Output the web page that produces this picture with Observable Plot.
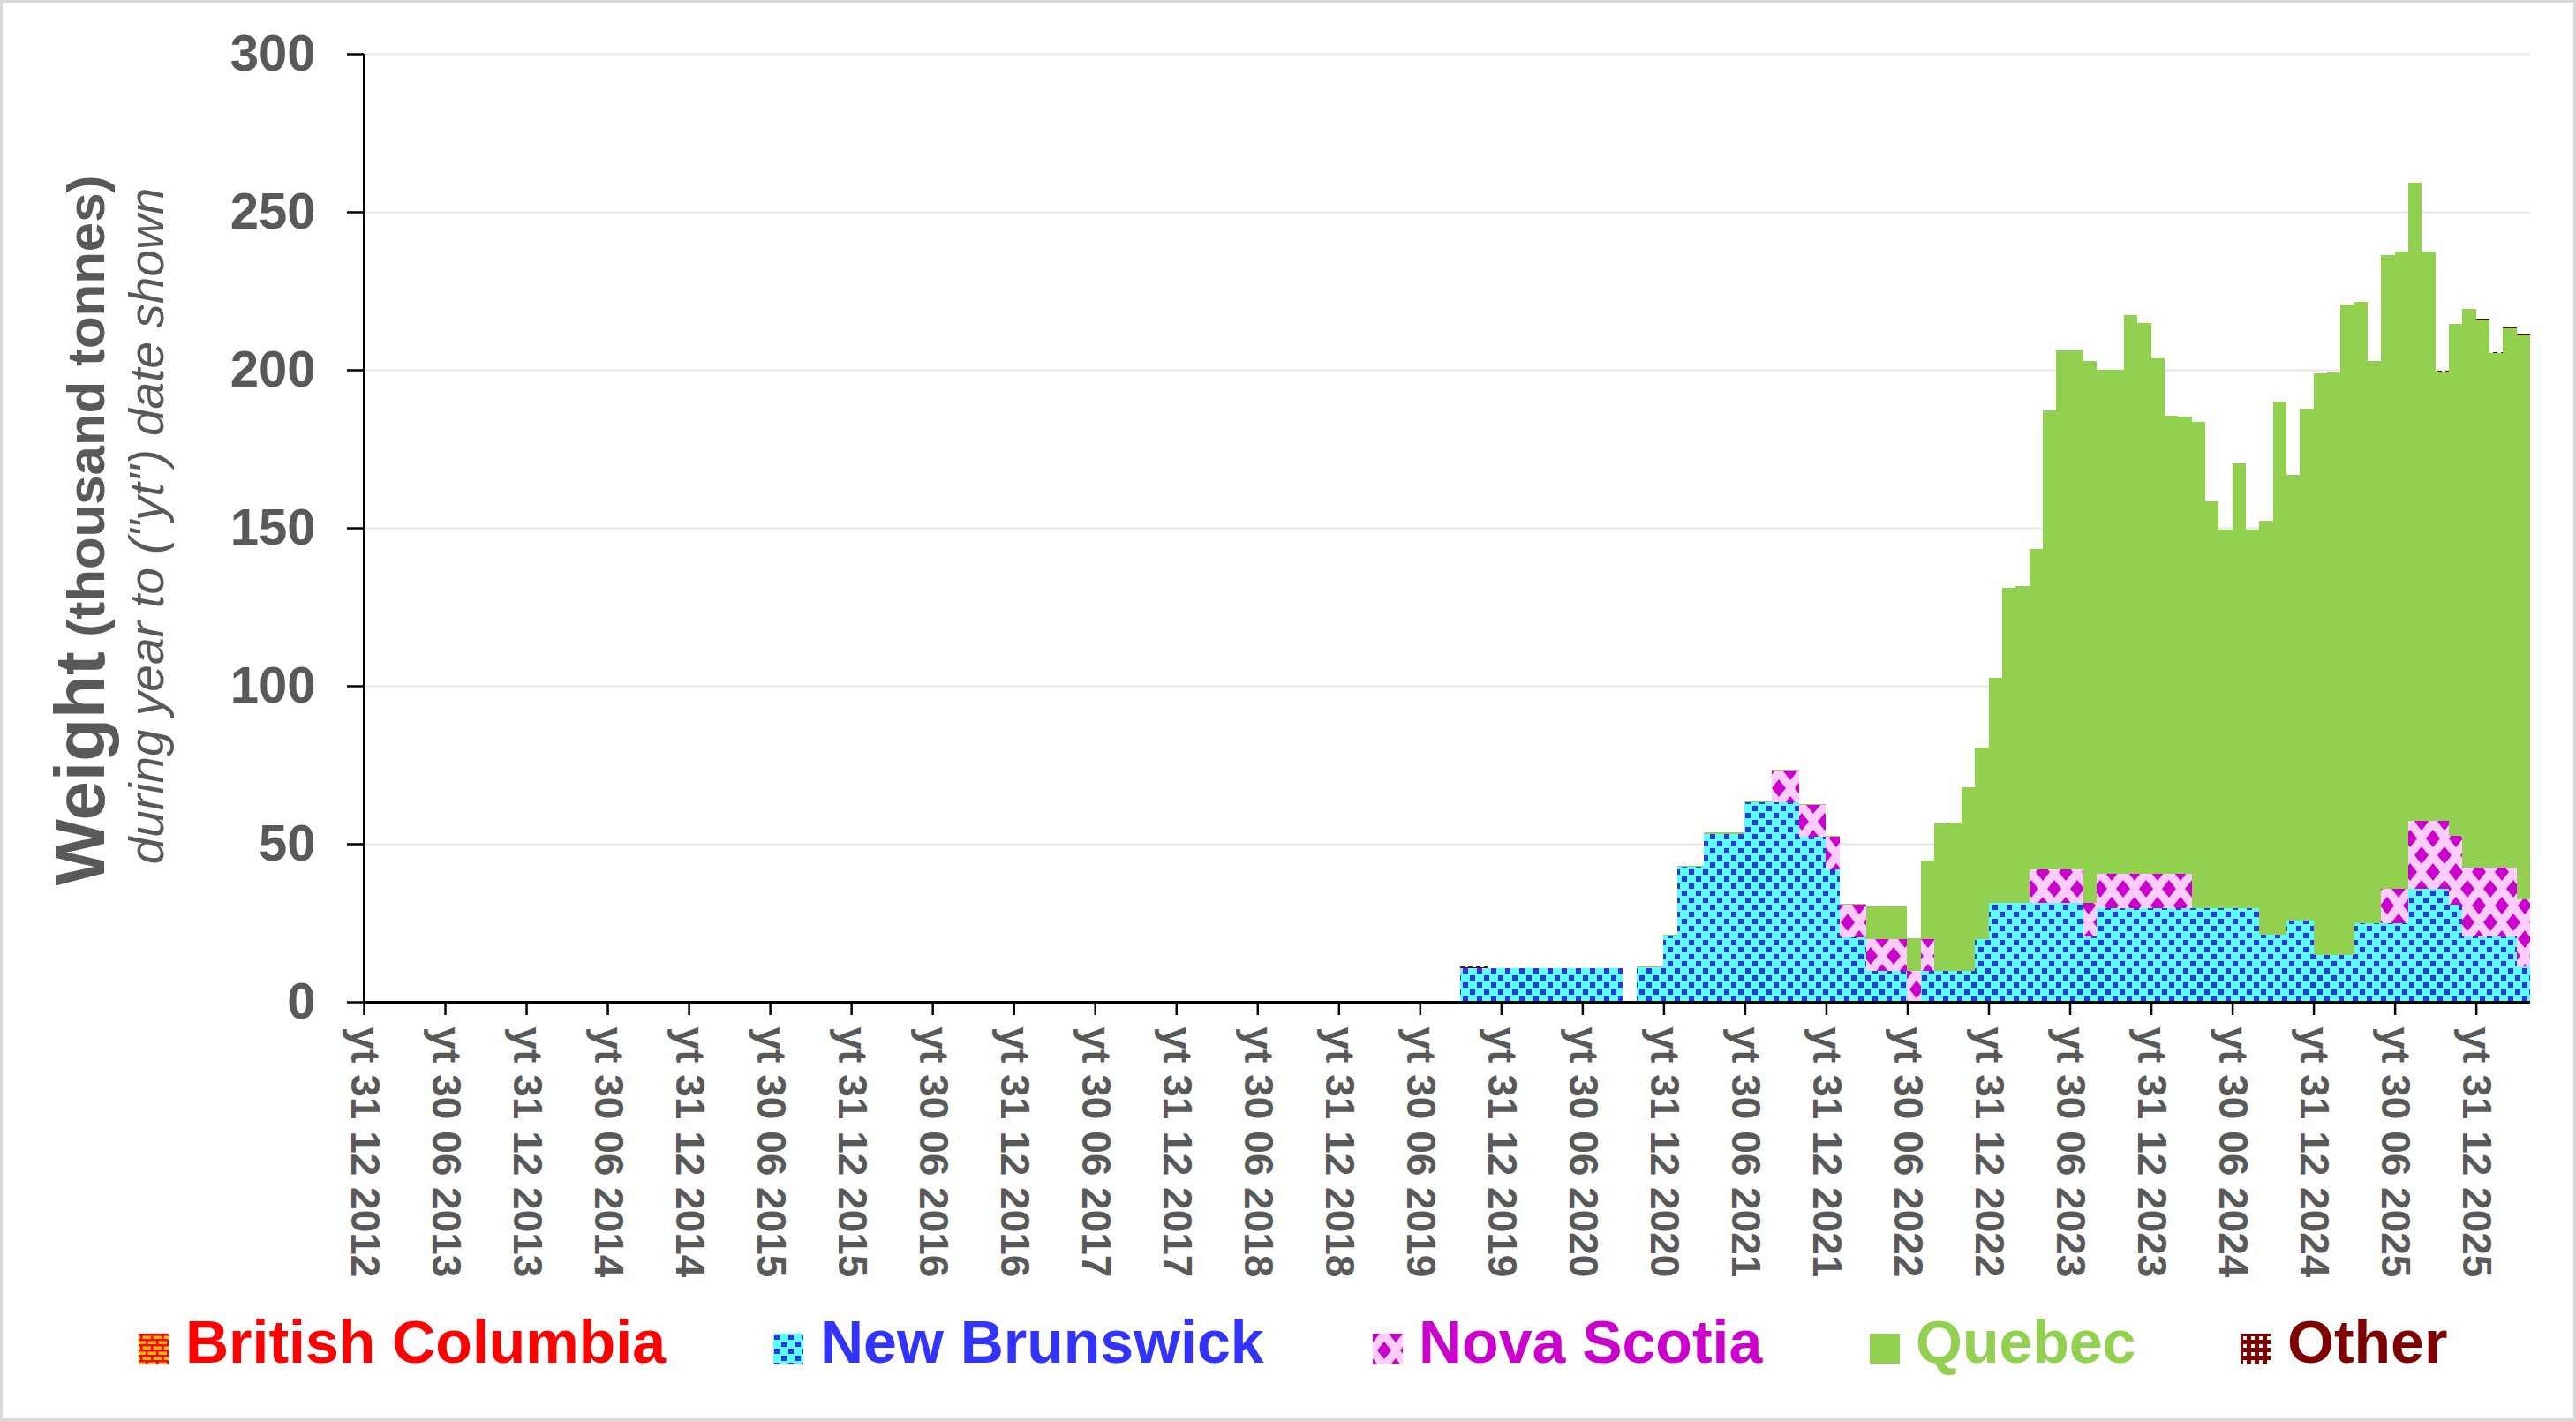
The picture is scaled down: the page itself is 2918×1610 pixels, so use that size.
<!DOCTYPE html>
<html>
<head>
<meta charset="utf-8">
<script src="https://cdn.jsdelivr.net/npm/d3@7"></script>
<script src="https://cdn.jsdelivr.net/npm/@observablehq/plot@0.6"></script>
<style>
  html, body { margin: 0; padding: 0; background: #fff; }
  #frame { position: relative; width: 2918px; height: 1610px; overflow: hidden; background: #fff;
           font-family: "Liberation Sans", Arial, sans-serif; }
  #border { position: absolute; left: 0; top: 0; width: 2918px; height: 1610px; box-sizing: border-box;
            border: 3px solid #d9d9d9; pointer-events: none; }
  #chart { position: absolute; left: 0; top: 0; }
  .lg-sw { position: absolute; top: 1511px; width: 34px; height: 34px; }
  .lg-tx { position: absolute; top: 1480px; font-size: 68px; font-weight: bold; line-height: 80px; white-space: nowrap; }
</style>
</head>
<body>
<div id="frame">
  <svg width="0" height="0" style="position:absolute">
    <defs>
      <pattern id="pat-nb" patternUnits="userSpaceOnUse" width="16" height="16">
        <rect width="16" height="16" fill="#5CFFFF"/>
        <rect x="1" y="1" width="6" height="6" fill="#3333EE"/>
        <rect x="9" y="9" width="6" height="6" fill="#3333EE"/>
      </pattern>
      <pattern id="pat-ns" patternUnits="userSpaceOnUse" width="26" height="38">
        <rect width="26" height="38" fill="#FFCCFF"/>
        <path d="M0,-10 L8,0 L0,10 L-8,0Z M26,-10 L34,0 L26,10 L18,0Z M13,9 L21,19 L13,29 L5,19Z M0,28 L8,38 L0,48 L-8,38Z M26,28 L34,38 L26,48 L18,38Z" fill="#CC00CC"/>
      </pattern>
      <pattern id="pat-bc" patternUnits="userSpaceOnUse" width="12" height="12">
        <rect width="12" height="12" fill="#FFC000"/>
        <rect x="0" y="0" width="12" height="2.5" fill="#FF0000"/>
        <rect x="0" y="6" width="12" height="2.5" fill="#FF0000"/>
        <rect x="2" y="0" width="2.5" height="6" fill="#FF0000"/>
        <rect x="8" y="6" width="2.5" height="6" fill="#FF0000"/>
      </pattern>
      <pattern id="pat-other" patternUnits="userSpaceOnUse" width="9" height="9">
        <rect width="9" height="9" fill="#7F0000"/>
        <rect x="3" y="3" width="4" height="4" fill="#FFFFFF"/>
      </pattern>
    </defs>
  </svg>
  <div id="chart"></div>
  <div id="legend"></div>
  <div id="border"></div>
</div>
<script>
// ---------- data ----------
// month index 0 = the "yt 31 12 2012" tick; one bar per month
const firstMonth = 81; // first month with data
const tickLabels = [
  "yt 31 12 2012","yt 30 06 2013","yt 31 12 2013","yt 30 06 2014","yt 31 12 2014",
  "yt 30 06 2015","yt 31 12 2015","yt 30 06 2016","yt 31 12 2016","yt 30 06 2017",
  "yt 31 12 2017","yt 30 06 2018","yt 31 12 2018","yt 30 06 2019","yt 31 12 2019",
  "yt 30 06 2020","yt 31 12 2020","yt 30 06 2021","yt 31 12 2021","yt 30 06 2022",
  "yt 31 12 2022","yt 30 06 2023","yt 31 12 2023","yt 30 06 2024","yt 31 12 2024",
  "yt 30 06 2025","yt 31 12 2025"
];
const tickMonths = [0,6,12,18,24,30,36,42,48,54,60,66,72,78,84,90,96,102,108,114,120,126,132,138,144,150,156];
const yTicks = [0, 50, 100, 150, 200, 250, 300];

const seriesNames = ["British Columbia", "New Brunswick", "Nova Scotia", "Quebec", "Other"];

const britishColumbia = [];
const newBrunswick = [
  10.7,10.7,10.7,10.7,10.7,10.7,10.7,10.7,10.7,10.7,10.7,10.7,
  0,10.8,10.8,20.9,42.6,42.6,53.2,53.2,53.2,63.1,63.1,63.1,63.1,
  52.1,52.1,41.9,20.3,20.3,9.9,9.9,9.9,0,9.8,9.8,9.8,9.8,19.9,
  31.2,31.2,31.2,31.2,31.2,31.2,31.2,20.8,
  29.7,29.7,29.7,29.7,29.7,29.7,29.7,29.7,29.7,29.7,29.7,29.7,
  21.1,21.1,25.6,25.6,14.9,14.9,14.9,24.9,24.9,24.9,24.9,
  35.7,35.7,35.7,30.6,20.6,20.6,20.6,20.6,11.2
];
const novaScotia = [
  0,0,0,0,0,0,0,0,0,0,0,0,
  0,0,0,0,0,0,0,0,0,0,0,10.2,10.2,
  10.1,10.1,10.4,10.4,10.4,10.0,10.0,10.0,9.8,10.1,0,0,0,0,
  0,0,0,10.6,10.6,10.6,10.6,10.6,
  10.7,10.7,10.7,10.7,10.7,10.7,10.7,0,0,0,0,0,
  0,0,0,0,0,0,0,0,0,10.8,10.8,
  21.5,21.5,21.5,21.8,21.8,21.8,21.8,21.8,21.3
];
const quebec = [
  0,0,0,0,0,0,0,0,0,0,0,0,
  0,0.3,0.3,0.2,0.3,0.3,0.3,0.3,0.3,0.3,0.3,0.3,0.3,
  0.3,0.3,0.3,0.3,0.3,10.2,10.2,10.2,10.4,24.7,46.7,47.0,58.2,60.6,
  71.2,99.9,100.4,101.4,145.4,164.4,164.4,171.5,
  159.6,159.6,176.8,174.3,163.1,145.1,144.8,153.9,128.7,119.8,140.7,119.7,
  131.1,168.8,141.2,162.2,183.9,184.2,205.7,196.7,178.0,200.6,201.8,
  201.9,180.3,142.3,162.0,177.0,173.6,163.0,170.7,178.7
];
const other = [
  0.4,0.4,0,0,0,0,0,0,0,0,0,0,
  0,0,0,0,0,0,0,0,0,0,0,0,0,
  0,0,0,0,0,0,0,0,0,0,0,0,0,0,
  0,0,0,0,0,0,0,0,
  0,0,0,0,0,0,0,0,0,0,0,0,
  0,0,0,0,0,0,0,0,0,0,0,
  0,0,0.3,0.2,0,0.3,0.3,0.3,0.3
];

const seriesValues = [britishColumbia, newBrunswick, novaScotia, quebec, other];
const seriesFills = ["url(#pat-bc)", "url(#pat-nb)", "url(#pat-ns)", "#92D050", "url(#pat-other)"];
const seriesText = ["#FF0000", "#3333FF", "#CC00CC", "#92D050", "#7F0000"];

const rows = [];
seriesNames.forEach((name, s) => {
  seriesValues[s].forEach((v, i) => {
    rows.push({series: name, m: firstMonth + i, m2: firstMonth + i + 1, value: v});
  });
});

// ---------- chart ----------
const W = 2918, H = 1460;
const grey = "#595959";
const plot = Plot.plot({
  width: W,
  height: H,
  marginLeft: 412,
  marginRight: 52,
  marginTop: 61,
  marginBottom: H - 1135,
  style: {fontFamily: '"Liberation Sans", Arial, sans-serif', background: "white", overflow: "visible"},
  x: {type: "linear", domain: [0, 160], label: null},
  y: {domain: [0, 300], label: null},
  color: {domain: seriesNames, range: seriesFills},
  marks: [
    Plot.gridY(yTicks.filter(d => d > 0), {stroke: "#e6e6e6", strokeOpacity: 1, strokeWidth: 2}),
    Plot.rectY(rows, Plot.stackY({x1: "m", x2: "m2", y: "value", fill: "series", order: seriesNames,
                                  shapeRendering: "crispEdges"})),
    Plot.axisY({ticks: yTicks, tickSize: 19, tickPadding: 36, tickFormat: d => String(d), label: null,
                fontSize: 58, fontWeight: "bold", fill: grey, stroke: "black", strokeWidth: 2.5}),
    Plot.axisX({ticks: tickMonths, tickFormat: d => tickLabels[d / 6], tickRotate: 90, label: null,
                tickSize: 15, tickPadding: 13, fontSize: 46, fontWeight: "bold", fill: grey,
                stroke: "black", strokeWidth: 2.5}),
    Plot.ruleY([0], {stroke: "black", strokeWidth: 3}),
    Plot.ruleX([0], {stroke: "black", strokeWidth: 3})
  ]
});

// y-axis title
const svg = d3.select(plot);
const t1 = svg.append("text")
  .attr("transform", "translate(118,601) rotate(-90)")
  .attr("text-anchor", "middle")
  .attr("fill", grey)
  .attr("font-weight", "bold");
t1.append("tspan").attr("font-size", 80).text("Weight");
t1.append("tspan").attr("font-size", 60).text(" (thousand tonnes)");
svg.append("text")
  .attr("transform", "translate(185,596) rotate(-90)")
  .attr("text-anchor", "middle")
  .attr("fill", grey)
  .attr("font-style", "italic")
  .attr("font-size", 55)
  .text('during year to ("yt") date shown');

document.getElementById("chart").appendChild(plot);

// legend
const legendSwatchX = [157, 876, 1555, 2118, 2538];
const legendTextX = [210, 929, 1607, 2170, 2591];
const legend = document.getElementById("legend");
seriesNames.forEach((name, i) => {
  const sw = document.createElementNS("http://www.w3.org/2000/svg", "svg");
  sw.setAttribute("class", "lg-sw");
  sw.setAttribute("width", 34);
  sw.setAttribute("height", 34);
  sw.style.left = legendSwatchX[i] + "px";
  const r = document.createElementNS("http://www.w3.org/2000/svg", "rect");
  r.setAttribute("width", 34); r.setAttribute("height", 34);
  r.setAttribute("fill", seriesFills[i]);
  sw.appendChild(r);
  legend.appendChild(sw);
  const tx = document.createElement("div");
  tx.className = "lg-tx";
  tx.style.left = legendTextX[i] + "px";
  tx.style.color = seriesText[i];
  tx.textContent = name;
  legend.appendChild(tx);
});
</script>
</body>
</html>
